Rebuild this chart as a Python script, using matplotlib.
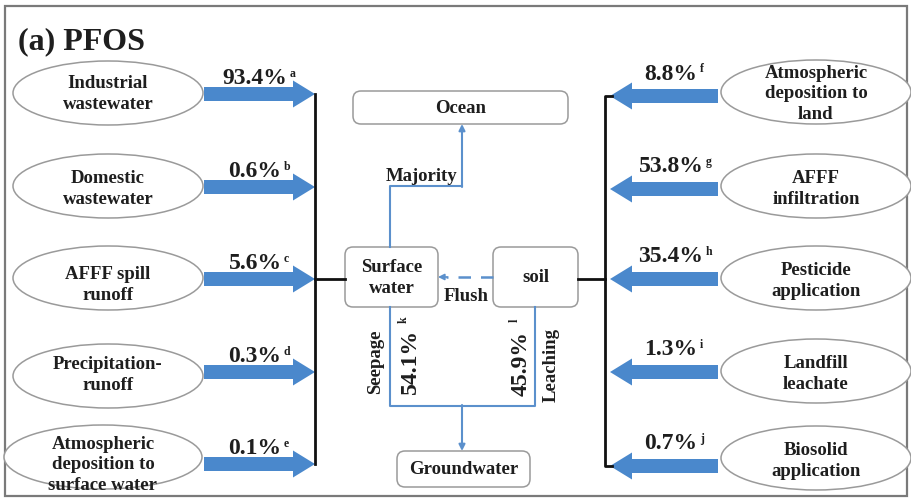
import matplotlib
matplotlib.use('Agg')
import matplotlib.pyplot as plt
from matplotlib.patches import Ellipse, FancyBboxPatch, FancyArrow, Rectangle

plt.rcParams['font.family'] = ['Liberation Serif', 'DejaVu Serif']
plt.rcParams['font.weight'] = 'bold'

# ---------------- data ----------------
title = "(a) PFOS"
left_sources = ["Industrial\nwastewater", "Domestic\nwastewater", "AFFF spill\nrunoff",
                "Precipitation-\nrunoff", "Atmospheric\ndeposition to\nsurface water"]
left_pct = [93.4, 0.6, 5.6, 0.3, 0.1]
left_refs = ["a", "b", "c", "d", "e"]
right_sources = ["Atmospheric\ndeposition to\nland", "AFFF\ninfiltration", "Pesticide\napplication",
                 "Landfill\nleachate", "Biosolid\napplication"]
right_pct = [8.8, 53.8, 35.4, 1.3, 0.7]
right_refs = ["f", "g", "h", "i", "j"]
compartments = ["Ocean", "Surface\nwater", "soil", "Groundwater"]
flow_labels = ["Majority", "Flush", "Seepage", "Leaching"]
seepage_pct, seepage_ref = 54.1, "k"
leaching_pct, leaching_ref = 45.9, "l"

# ---------------- layout ----------------
W, H = 911, 502
BLUE = '#4a88cc'
LINE_BLUE = '#5b90cc'
TXT = '#1e1e1e'
EDGE = '#9a9a9a'

fig = plt.figure(figsize=(W / 100, H / 100), dpi=100)
ax = fig.add_axes([0, 0, 1, 1])
ax.set_xlim(0, W)
ax.set_ylim(H, 0)
ax.axis('off')
renderer = fig.canvas.get_renderer()
inv = ax.transData.inverted()

ax.add_patch(Rectangle((5, 7), 902, 490, fill=False, ec='#7a7a7a', lw=1.6))
ax.text(18, 42, title, fontsize=23, fontweight='bold', color=TXT, ha='left', va='center')


def pct_label(xc, y, val, ref, size=17):
    t = ax.text(xc, y, f"{val:.1f}%", fontsize=size, fontweight='bold', color=TXT,
                ha='center', va='center')
    bb = t.get_window_extent(renderer=renderer)
    x1 = inv.transform((bb.x1, bb.y1))[0]
    ax.text(x1 + 2.5, y - 5, ref, fontsize=8.5, fontweight='bold', color=TXT,
            ha='left', va='center')


def src_text(x, y, s):
    n = s.count('\n') + 1
    ax.text(x, y, s, fontsize=13.5, fontweight='bold', color=TXT, ha='center',
            va='center', linespacing=1.35 if n == 2 else 1.28)


left_arrow_y = [95, 188, 280, 373, 465]
left_ell_y = [94, 187, 279, 377, 458]
left_txt_y = [94, 189, 285, 375, 465]
for i, (src, v, r) in enumerate(zip(left_sources, left_pct, left_refs)):
    cx, w = (108, 190) if i < 4 else (103, 198)
    ax.add_patch(Ellipse((cx, left_ell_y[i]), w, 64, fc='white', ec=EDGE, lw=1.1))
    src_text(cx, left_txt_y[i], src)
    ax.add_patch(FancyArrow(204, left_arrow_y[i], 111, 0, width=14, head_width=27,
                            head_length=22, length_includes_head=True, color=BLUE, lw=0))
    pct_label(255, left_arrow_y[i] - 16, v, r)

right_arrow_y = [97, 190, 280, 373, 467]
right_ell_y = [93, 187, 279, 372, 459]
right_txt_y = [94, 189, 281, 374, 461]
for i, (src, v, r) in enumerate(zip(right_sources, right_pct, right_refs)):
    ax.add_patch(Ellipse((816, right_ell_y[i]), 190, 64, fc='white', ec=EDGE, lw=1.1))
    src_text(816, right_txt_y[i], src)
    ax.add_patch(FancyArrow(718, right_arrow_y[i], -108, 0, width=14, head_width=27,
                            head_length=22, length_includes_head=True, color=BLUE, lw=0))
    pct_label(671, right_arrow_y[i] - 23, v, r)

# black collector lines
ax.plot([315, 315], [95, 465], color='#111', lw=2)
ax.plot([315, 345], [280, 280], color='#111', lw=2)
ax.plot([612, 605, 605, 612], [97, 97, 467, 467], color='#111', lw=2)
ax.plot([578, 605], [280, 280], color='#111', lw=2)

# compartment boxes
boxes = [(353, 92, 215, 33), (345, 248, 93, 60), (493, 248, 85, 60), (397, 452, 133, 36)]
for (x, y, w, h), name in zip(boxes, compartments):
    ax.add_patch(FancyBboxPatch((x, y), w, h, boxstyle='round,pad=0,rounding_size=8',
                                fc='white', ec=EDGE, lw=1.1))
    ax.text(x + w / 2, y + h / 2, name, fontsize=13.5, fontweight='bold', color=TXT,
            ha='center', va='center', linespacing=1.3)

# blue flow lines
ax.plot([390, 390, 462], [248, 187, 187], color=LINE_BLUE, lw=1.5)
ax.annotate('', xy=(462, 125), xytext=(462, 188),
            arrowprops=dict(arrowstyle='-|>', color=LINE_BLUE, lw=1.5, mutation_scale=9,
                            shrinkA=0, shrinkB=0))
ax.plot([493, 446], [278, 278], color=LINE_BLUE, lw=1.8, ls=(0, (5, 4)))
ax.annotate('', xy=(438, 278), xytext=(447, 278),
            arrowprops=dict(arrowstyle='-|>', color=LINE_BLUE, lw=1.2, mutation_scale=9,
                            shrinkA=0, shrinkB=0))
ax.plot([390, 390, 535, 535], [308, 407, 407, 308], color=LINE_BLUE, lw=1.5)
ax.annotate('', xy=(462, 452), xytext=(462, 406),
            arrowprops=dict(arrowstyle='-|>', color=LINE_BLUE, lw=1.5, mutation_scale=9,
                            shrinkA=0, shrinkB=0))

ax.text(422, 177, flow_labels[0], fontsize=13.5, fontweight='bold', color=TXT, ha='center', va='center')
ax.text(466, 297, flow_labels[1], fontsize=13.5, fontweight='bold', color=TXT, ha='center', va='center')
ax.text(376, 362, flow_labels[2], fontsize=13.5, fontweight='bold', color=TXT, ha='center',
        va='center', rotation=90)
ax.text(551, 365, flow_labels[3], fontsize=13.5, fontweight='bold', color=TXT, ha='center',
        va='center', rotation=90)

ax.text(410, 361, f"{seepage_pct:.1f}%", fontsize=17, fontweight='bold', color=TXT,
        ha='center', va='center', rotation=90)
ax.text(404, 320, seepage_ref, fontsize=8.5, fontweight='bold', color=TXT,
        ha='center', va='center', rotation=90)
ax.text(521, 364, f"{leaching_pct:.1f}%", fontsize=17, fontweight='bold', color=TXT,
        ha='center', va='center', rotation=90)
ax.text(515, 320, leaching_ref, fontsize=8.5, fontweight='bold', color=TXT,
        ha='center', va='center', rotation=90)

fig.savefig('out.png', dpi=100, facecolor='white')
